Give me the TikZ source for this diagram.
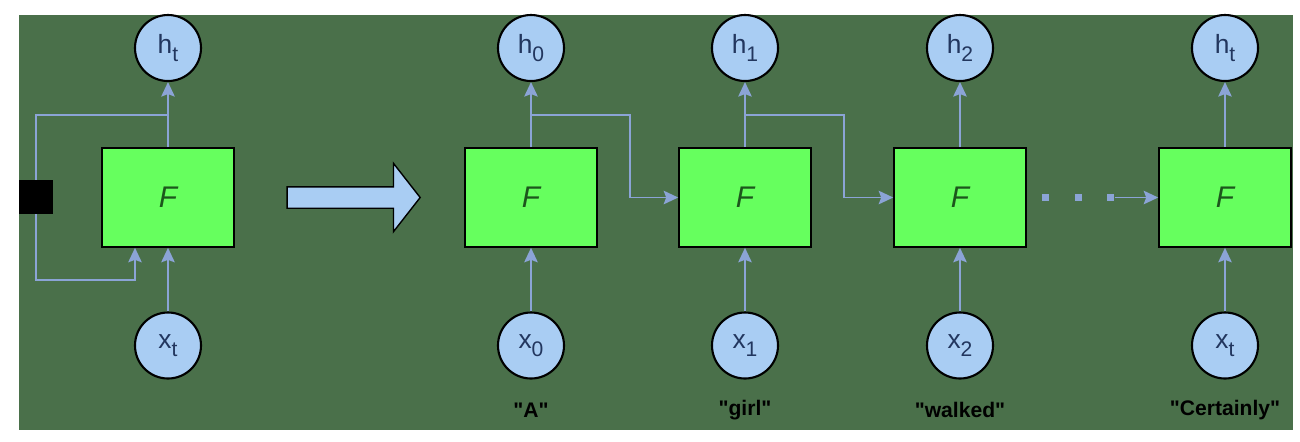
\documentclass[tikz,border=0pt]{standalone}
\usepackage{fontspec}
\setmainfont{Liberation Sans}
\usetikzlibrary{positioning,arrows.meta,shapes,backgrounds,calc}
\definecolor{bggreen}{HTML}{4A704A}
\definecolor{cellgreen}{HTML}{66FF5E}
\definecolor{stateblue}{HTML}{A9CDF3}
\definecolor{linkblue}{HTML}{8BA4D6}
\definecolor{labelnavy}{HTML}{22365E}
\definecolor{fgreen}{HTML}{1C561C}
\newcommand{\sub}[1]{\raisebox{-0.55ex}{\fontsize{12}{13}\selectfont #1}}

\begin{document}
\begin{tikzpicture}[
    cell/.style={rectangle, draw, line width=0.9pt, fill=cellgreen, minimum width=2.64cm, minimum height=1.98cm, text=fgreen, font=\fontsize{17}{20}\selectfont\itshape},
    state/.style={circle, draw, line width=1.2pt, fill=stateblue, minimum size=1.32cm, inner sep=0pt, text=labelnavy, font=\fontsize{15}{17}\selectfont},
    word/.style={font=\fontsize{12}{14}\selectfont\bfseries},
    link/.style={draw=linkblue, line width=1.1pt},
    tip/.style={-{Stealth[length=2.9mm, width=2.7mm, inset=0.5mm]}}]
    \useasboundingbox (0,0) rectangle (26,-8.82);

    % folded network
    \node[cell] (f) at (3.36,-3.95) {F};
    \node[state] (h) at (3.36,-0.96) {h\sub{t}};
    \node[state] (x) at (3.36,-6.91) {x\sub{t}};
    \node[rectangle, fill=black, minimum size=0.68cm, inner sep=0pt] (delay) at (0.72,-3.94) {};
    \coordinate (split) at (3.36,-2.3);
    \coordinate (back) at (2.7,-5.6);

    \draw[link, tip] (f) -- (h);
    \draw[link, tip] (x) -- (f);

    \node[single arrow, draw, line width=0.8pt, fill=stateblue, inner sep=0.2cm, minimum height=2.66cm,
          single arrow head extend=0.47cm, single arrow tip angle=104] (unfold) at (6.99,-3.95) {};

    % unrolled over time
    \foreach \i/\x/\w in {0/10.62/A, 1/14.9/girl, 2/19.2/walked, t/24.5/Certainly} {
        \node[cell] (f\i) at (\x,-3.95) {F};
        \node[state] (h\i) at (\x,-0.96) {h\sub{\i}};
        \node[state] (x\i) at (\x,-6.91) {x\sub{\i}};
        \node[word] (w\i) at (\x,-8.2) {\textquotedbl\w\textquotedbl};
        \coordinate (s\i) at (\x,-2.3);
        \draw[link, tip] (f\i) -- (h\i);
        \draw[link, tip] (x\i) -- (f\i);
    }

    \draw[link, tip] (s0) -| (12.6,-3.95) -- (f1.west);
    \draw[link, tip] (s1) -| (16.88,-3.95) -- (f2.west);

    \coordinate (dots) at (22.29,-3.95);
    \draw[draw=linkblue, line width=0.14cm, dash pattern=on 0.14cm off 0.51cm, dash phase=0.34cm] (f2.east) -- (dots);
    \draw[link, tip] (dots) -- (ft.west);

    \begin{scope}[on background layer]
        \fill[white] (0,0) rectangle (26,-8.82);
        \fill[bggreen] (0.38,-0.3) rectangle (25.86,-8.6);
        \draw[link, tip] (split) -| (delay.center) |- (back) -- (back |- f.south);
    \end{scope}
\end{tikzpicture}
\end{document}
